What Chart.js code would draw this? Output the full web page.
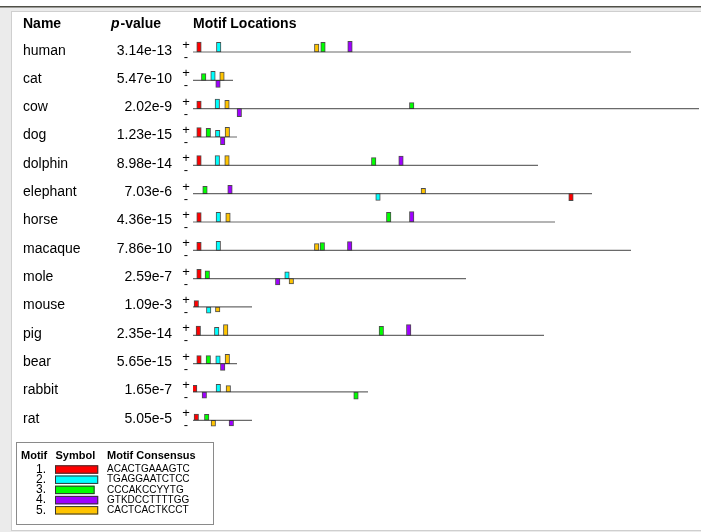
<!DOCTYPE html>
<html>
<head>
<meta charset="utf-8">
<script src="https://cdn.jsdelivr.net/npm/chart.js@4/dist/chart.umd.min.js"></script>
<style>
  html, body { margin: 0; padding: 0; background: #fff; }
  canvas { display: block; }
</style>
</head>
<body>
<canvas id="c" width="701" height="532"></canvas>
<script>
// Sequences, their combined p-values and lengths (diagram position units)
const sequences = ['human', 'cat', 'cow', 'dog', 'dolphin', 'elephant', 'horse',
                   'macaque', 'mole', 'mouse', 'pig', 'bear', 'rabbit', 'rat'];
const pValues = ['3.14e-13', '5.47e-10', '2.02e-9', '1.23e-15', '8.98e-14', '7.03e-6', '4.36e-15',
                 '7.86e-10', '2.59e-7', '1.09e-3', '2.35e-14', '5.65e-15', '1.65e-7', '5.05e-5'];
const seqLengths = [438, 40, 506, 44, 345, 399, 362, 438, 273, 59, 351, 44, 175, 59];

// Motif consensus sequences
const motifConsensus = ['ACACTGAAAGTC', 'TGAGGAATCTCC', 'CCCAKCCYYTG', 'GTKDCCTTTTGG', 'CACTCACTKCCT'];

// Sites: [sequence index, position, strand (+1 / -1), site score]
const motif1Sites = [
  [0, 6, 1, 10], [2, 6, 1, 7.7], [3, 6, 1, 9.3], [4, 6, 1, 9.7], [5, 378, -1, 7],
  [6, 6, 1, 9.3], [7, 6, 1, 8], [8, 6, 1, 9.3], [9, 3.3, 1, 6.3], [10, 5.3, 1, 9.3],
  [11, 6, 1, 8], [12, 1.7, 1, 6.7], [13, 3.3, 1, 6.3]
];
const motif2Sites = [
  [0, 25.7, 1, 9.6], [1, 20, 1, 9], [2, 24.3, 1, 9.7], [3, 24.7, 1, 6.7], [4, 24.3, 1, 9.7],
  [5, 185, -1, 6.7], [6, 25.3, 1, 9.7], [7, 25.3, 1, 9], [8, 94, 1, 6.7], [9, 15.7, -1, 6.3],
  [10, 23.7, 1, 8], [11, 25, 1, 7.7], [12, 25.3, 1, 7.7]
];
const motif3Sites = [
  [0, 130, 1, 9.7], [1, 10.7, 1, 6.7], [2, 218.7, 1, 6], [3, 15.3, 1, 8.7], [4, 180.7, 1, 7.7],
  [5, 12, 1, 7.3], [6, 195.7, 1, 9.7], [7, 129.3, 1, 7.7], [8, 14.3, 1, 7.7], [10, 188.3, 1, 9],
  [11, 15.3, 1, 8], [12, 163, -1, 7.3], [13, 13.7, 1, 6]
];
const motif4Sites = [
  [0, 157, 1, 10.7], [1, 25, -1, 7], [2, 46.3, -1, 8], [3, 29.7, -1, 7.7], [4, 208, 1, 9.3],
  [5, 37, 1, 8.3], [6, 218.7, 1, 10.3], [7, 156.7, 1, 8.7], [8, 84.7, -1, 6.3], [10, 215.7, 1, 10.7],
  [11, 29.7, -1, 6.7], [12, 11.3, -1, 6.3], [13, 38.3, -1, 5.7]
];
const motif5Sites = [
  [0, 123.7, 1, 8], [1, 29, 1, 8.3], [2, 34, 1, 8.3], [3, 34.3, 1, 9.7], [4, 34, 1, 9.7],
  [5, 230.3, 1, 5.3], [6, 35, 1, 9], [7, 123.7, 1, 6.7], [8, 98.3, -1, 5.3], [9, 24.7, -1, 5],
  [10, 32.7, 1, 10.7], [11, 34.3, 1, 9.3], [12, 35.3, 1, 6.3], [13, 20.3, -1, 6]
];

const motifSites = [motif1Sites, motif2Sites, motif3Sites, motif4Sites, motif5Sites];
const motifColors = ['#ff0000', '#00ffff', '#00ff00', '#9f00ff', '#ffc400'];

// Height of a site block, in rows, per unit of score
const SCORE_TO_ROWS = 1 / 28.33;
const FONT = '"Liberation Sans", Arial, Helvetica, sans-serif';

// One flat line per sequence
const lineDatasets = sequences.map((name, i) => ({
  type: 'line',
  label: name,
  data: [{ x: 0, y: i }, { x: seqLengths[i], y: i }],
  borderColor: '#6a6a6a',
  borderWidth: 1.2,
  pointRadius: 0,
  order: 2
}));

// One floating-bar dataset per motif: + strand above the line, - strand below
const barDatasets = motifSites.map((sites, m) => ({
  type: 'bar',
  label: 'Motif ' + (m + 1),
  data: sites.map(([seq, pos, strand, score]) => ({
    x: pos,
    y: [seq, seq - strand * score * SCORE_TO_ROWS]
  })),
  backgroundColor: motifColors[m],
  borderColor: 'rgba(45,45,45,0.85)',
  borderWidth: 1,
  borderSkipped: false,
  barThickness: 4.5,
  stack: 'sites',
  order: 1
}));

const textPlugin = {
  id: 'motifText',
  beforeDraw(chart) {
    const ctx = chart.ctx;
    ctx.save();
    // page frame
    ctx.fillStyle = '#ebebeb';
    ctx.fillRect(0, 6, 701, 526);
    ctx.fillStyle = '#ffffff';
    ctx.fillRect(0, 0, 701, 6);
    ctx.fillRect(12, 12, 701, 518);
    ctx.strokeStyle = '#cfcfcf';
    ctx.lineWidth = 1;
    ctx.strokeRect(11.5, 11.5, 700, 519);
    ctx.fillStyle = '#4f4f47';
    ctx.fillRect(0, 6, 701, 1.5);
    ctx.restore();
  },
  afterDraw(chart) {
    const { ctx, scales: { x, y } } = chart;
    ctx.save();
    ctx.fillStyle = '#000';
    ctx.textBaseline = 'alphabetic';

    // column headers
    const hy = y.getPixelForValue(-1) + 4.6;
    ctx.font = 'bold 14px ' + FONT;
    ctx.textAlign = 'left';
    ctx.fillText('Name', 23, hy);
    ctx.font = 'italic bold 14px ' + FONT;
    ctx.fillText('p', 111, hy);
    const pw = ctx.measureText('p').width;
    ctx.font = 'bold 14px ' + FONT;
    ctx.fillText('-value', 111 + pw + 1, hy);
    ctx.fillText('Motif Locations', x.getPixelForValue(0), hy);

    // rows: name, p-value, strand marks
    sequences.forEach((name, i) => {
      const ry = y.getPixelForValue(i);
      ctx.font = '14px ' + FONT;
      ctx.textAlign = 'left';
      ctx.textBaseline = 'alphabetic';
      ctx.fillText(name, 23, ry + 2.5);
      ctx.textAlign = 'right';
      ctx.fillText(pValues[i], 172, ry + 2.5);
      ctx.font = '13px ' + FONT;
      ctx.textAlign = 'center';
      ctx.textBaseline = 'middle';
      ctx.fillText('+', 186, ry - 6.5);
      ctx.fillText('-', 186, ry + 5.5);
    });

    // motif key
    ctx.textBaseline = 'middle';
    ctx.fillStyle = '#fff';
    ctx.fillRect(17, 443, 196, 81);
    ctx.strokeStyle = '#8a8a8a';
    ctx.lineWidth = 1;
    ctx.strokeRect(16.5, 442.5, 197, 82);
    ctx.fillStyle = '#000';
    ctx.font = 'bold 11px ' + FONT;
    ctx.textAlign = 'left';
    ctx.fillText('Motif', 21, 456);
    ctx.fillText('Symbol', 55.5, 456);
    ctx.fillText('Motif Consensus', 107, 456);
    motifConsensus.forEach((cons, m) => {
      const cy = 469.5 + m * 10.2;
      ctx.font = '12px ' + FONT;
      ctx.textAlign = 'right';
      ctx.fillStyle = '#000';
      ctx.fillText((m + 1) + '.', 46, cy);
      const w = cons.length * 3.6;
      ctx.fillStyle = motifColors[m];
      ctx.fillRect(55, cy - 4.2, w, 8.4);
      ctx.strokeStyle = '#333';
      ctx.strokeRect(55.5, cy - 3.7, w - 1, 7.4);
      ctx.fillStyle = '#000';
      ctx.font = '10px ' + FONT;
      ctx.textAlign = 'left';
      ctx.fillText(cons, 107, cy);
    });
    ctx.restore();
  }
};

const rowPx = 28.33;
new Chart(document.getElementById('c'), {
  data: { datasets: [...barDatasets, ...lineDatasets] },
  options: {
    responsive: false,
    devicePixelRatio: 1,
    animation: false,
    events: [],
    layout: { padding: { left: 193, right: 0, top: 52 - rowPx, bottom: 532 - (52 + 14 * rowPx) } },
    scales: {
      x: { type: 'linear', min: 0, max: 508, display: false, offset: false },
      // sites sharing a position must not be stacked on top of each other
      y: { type: 'linear', min: -1, max: 14, reverse: true, display: false, stacked: false }
    },
    plugins: { legend: { display: false }, tooltip: { enabled: false } }
  },
  plugins: [textPlugin]
});
</script>
</body>
</html>
